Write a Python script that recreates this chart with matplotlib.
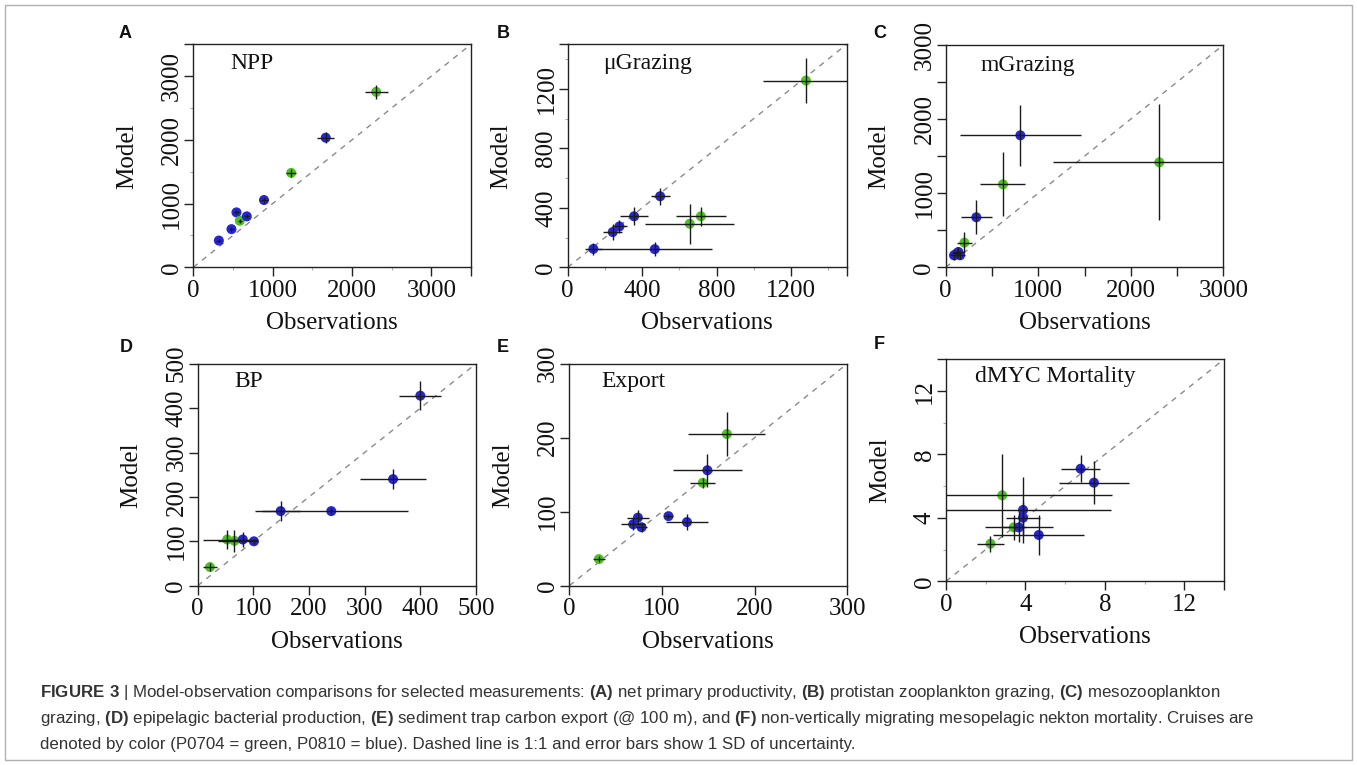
import matplotlib
matplotlib.use("Agg")
import matplotlib.pyplot as plt
from matplotlib.patches import Rectangle
from matplotlib.ticker import FixedLocator, FixedFormatter

W, H = 1357, 765

# ---------------- data ----------------
cruise_colors = {"P0704": "#4fc322", "P0810": "#2626d2"}

npp_obs = [322, 481, 544, 586, 674, 891, 1234, 1669, 2305]
npp_mod = [420, 599, 862, 730, 799, 1056, 1482, 2034, 2754]
npp_obs_sd = [30, 30, 30, 25, 30, 48, 65, 105, 145]
npp_mod_sd = [30, 30, 30, 30, 30, 47, 63, 90, 115]
npp_cruise = ["P0810", "P0810", "P0810", "P0704", "P0810", "P0810", "P0704", "P0810", "P0704"]

ug_obs = [138, 468, 242, 278, 357, 497, 656, 716, 1281]
ug_mod = [124, 122, 237, 275, 343, 478, 293, 343, 1256]
ug_obs_sd = [44, 310, 52, 41, 74, 51, 240, 136, 229]
ug_mod_sd = [38, 45, 55, 45, 60, 56, 135, 62, 153]
ug_cruise = ["P0810"] * 6 + ["P0704"] * 3

mg_obs = [90, 119, 137, 155, 202, 331, 619, 807, 2308]
mg_mod = [162, 189, 207, 162, 333, 675, 1120, 1781, 1417]
mg_obs_sd = [45, 50, 55, 50, 83, 169, 243, 655, 1145]
mg_mod_sd = [70, 60, 70, 55, 140, 230, 434, 412, 783]
mg_cruise = ["P0810", "P0810", "P0810", "P0810", "P0704", "P0810", "P0704", "P0810", "P0704"]

bp_obs = [22, 53, 66, 81, 101, 149, 240, 351, 400]
bp_mod = [42, 104, 101, 104, 100, 168, 168, 240, 428]
bp_obs_sd = [13, 43, 30, 25, 8, 34, 137, 60, 38]
bp_mod_sd = [10, 22, 25, 16, 5, 22, 6, 22, 33]
bp_cruise = ["P0704", "P0704", "P0704"] + ["P0810"] * 6

ex_obs = [32, 69, 74, 78, 107, 127, 144, 149, 170]
ex_mod = [36, 83, 92, 79, 94, 86, 139, 156, 205]
ex_obs_sd = [6.5, 13, 11.5, 6, 5, 22.5, 13.5, 37, 41.5]
ex_mod_sd = [4, 8, 10, 6, 3, 11, 7, 22, 30]
ex_cruise = ["P0704", "P0810", "P0810", "P0810", "P0810", "P0810", "P0704", "P0810", "P0704"]

my_obs = [2.24, 2.83, 3.41, 3.67, 3.88, 3.88, 4.67, 6.78, 7.45]
my_mod = [2.37, 5.42, 3.40, 3.40, 4.50, 4.01, 2.92, 7.10, 6.22]
my_obs_sd = [0.67, 5.54, 0.6, 1.7, 4.42, 0.87, 2.28, 0.98, 1.78]
my_mod_sd = [0.5, 2.6, 0.8, 0.95, 2.1, 1.0, 1.26, 0.86, 1.36]
my_cruise = ["P0704", "P0704", "P0704", "P0810", "P0810", "P0810", "P0810", "P0810", "P0810"]

titles = ["NPP", "\u03bcGrazing", "mGrazing", "BP", "Export", "dMYC Mortality"]
letters = ["A", "B", "C", "D", "E", "F"]
limits = [3500, 1500, 3000, 500, 300, 14]
major_ticks = [
    [0, 1000, 2000, 3000, 3500],
    [0, 400, 800, 1200, 1500],
    [0, 500, 1000, 1500, 2000, 2500, 3000],
    [0, 100, 200, 300, 400, 500],
    [0, 100, 200, 300],
    [0, 4, 8, 12, 14],
]
tick_labels = [
    ["0", "1000", "2000", "3000", ""],
    ["0", "400", "800", "1200", ""],
    ["0", "", "1000", "", "2000", "", "3000"],
    ["0", "100", "200", "300", "400", "500"],
    ["0", "100", "200", "300"],
    ["0", "4", "8", "12", ""],
]
minor_ticks = [
    [500, 1500, 2500],
    [200, 600, 1000, 1400],
    [],
    [],
    [],
    [2, 6, 10],
]

panels = [
    (npp_obs, npp_mod, npp_obs_sd, npp_mod_sd, npp_cruise),
    (ug_obs, ug_mod, ug_obs_sd, ug_mod_sd, ug_cruise),
    (mg_obs, mg_mod, mg_obs_sd, mg_mod_sd, mg_cruise),
    (bp_obs, bp_mod, bp_obs_sd, bp_mod_sd, bp_cruise),
    (ex_obs, ex_mod, ex_obs_sd, ex_mod_sd, ex_cruise),
    (my_obs, my_mod, my_obs_sd, my_mod_sd, my_cruise),
]

# ---------------- layout (pixels: left, top, right, bottom) ----------------
boxes = [
    (193.3, 44.3, 471.0, 267.3),
    (567.7, 44.3, 846.7, 267.3),
    (945.7, 45.0, 1223.3, 267.3),
    (197.7, 363.7, 476.0, 585.7),
    (569.3, 363.7, 847.3, 585.7),
    (946.0, 359.3, 1224.0, 581.3),
]
title_off = [(37, 19), (35, 19), (35, 20), (37, 18), (32, 18), (29, 17)]
letter_pos = [(125, 33), (503, 33), (880, 33), (126, 348), (503, 348), (879, 345)]

plt.rcParams["mathtext.fontset"] = "custom"
plt.rcParams["mathtext.rm"] = "Liberation Sans"
plt.rcParams["mathtext.bf"] = "Liberation Sans:bold"

fig = plt.figure(figsize=(W / 100, H / 100), dpi=100)
fig.patch.set_facecolor("white")

serif = "Liberation Serif"

for i, (obs, mod, osd, msd, cr) in enumerate(panels):
    l, t, r, b = boxes[i]
    ax = fig.add_axes([l / W, 1 - b / H, (r - l) / W, (b - t) / H])
    lim = limits[i]
    ax.set_xlim(0, lim)
    ax.set_ylim(0, lim)
    ax.plot([0, lim], [0, lim], color="#8a8a8a", lw=1.0, ls=(0, (4, 4)), zorder=1)
    cols = [cruise_colors[c] for c in cr]
    ax.scatter(obs, mod, c=cols, s=52, linewidths=0, zorder=2)
    ax.errorbar(obs, mod, xerr=osd, yerr=msd, fmt="none", ecolor="#1a1a1a",
                elinewidth=1.0, capsize=0, zorder=3)
    for sp in ax.spines.values():
        sp.set_linewidth(1.0)
        sp.set_color("#222222")
    for axis in (ax.xaxis, ax.yaxis):
        axis.set_major_locator(FixedLocator(major_ticks[i]))
        axis.set_major_formatter(FixedFormatter(tick_labels[i]))
        axis.set_minor_locator(FixedLocator(minor_ticks[i]))
    ax.tick_params(which="major", direction="out", length=6.2, width=1.0,
                   color="#222222", labelsize=18, labelcolor="#111111")
    ax.tick_params(which="minor", direction="out", length=2.0, width=0.8, color="#aaaaaa")
    ax.tick_params(axis="x", which="major", pad=3)
    ax.tick_params(axis="y", which="major", pad=1.2)
    for lab in ax.get_xticklabels():
        lab.set_fontfamily(serif)
    for lab in ax.get_yticklabels():
        lab.set_fontfamily(serif)
        lab.set_rotation(90)
        lab.set_va("center")

    # panel title inside
    dx, dy = title_off[i]
    fig.text((l + dx) / W, 1 - (t + dy) / H, titles[i], fontfamily=serif,
             fontsize=17, ha="left", va="center", color="#111111")
    # axis labels
    cx = (l + r) / 2
    cy = (t + b) / 2
    fig.text(cx / W, 1 - (b + 56) / H, "Observations", fontfamily=serif,
             fontsize=18, ha="center", va="center", color="#111111")
    fig.text((l - 66) / W, 1 - cy / H, "Model", fontfamily=serif, fontsize=18,
             rotation=90, ha="center", va="center", color="#111111")
    # panel letter
    lx, ly = letter_pos[i]
    fig.text(lx / W, 1 - ly / H, letters[i], fontfamily="Liberation Sans",
             fontweight="bold", fontsize=13, ha="center", va="center", color="#111111")

# ---------------- caption ----------------
cap_lines = [
    r"$\mathbf{FIGURE\ 3}$ | Model-observation comparisons for selected measurements: "
    r"$\mathbf{(A)}$ net primary productivity, $\mathbf{(B)}$ protistan zooplankton grazing, "
    r"$\mathbf{(C)}$ mesozooplankton",
    r"grazing, $\mathbf{(D)}$ epipelagic bacterial production, $\mathbf{(E)}$ sediment trap carbon "
    r"export (@ 100 m), and $\mathbf{(F)}$ non-vertically migrating mesopelagic nekton mortality. Cruises are",
    r"denoted by color (P0704 = green, P0810 = blue). Dashed line is 1:1 and error bars show 1 SD of uncertainty.",
]
cap_y = [693, 719, 745]
for line, y in zip(cap_lines, cap_y):
    fig.text(40 / W, 1 - y / H, line, fontfamily="Liberation Sans", fontsize=12.2,
             ha="left", va="center", color="#333333")

# outer frame
fig.patches.append(Rectangle((5 / W, 5 / H), (W - 10) / W, (H - 10) / H,
                             transform=fig.transFigure, fill=False,
                             edgecolor="#b0b0b0", linewidth=1.0))

fig.savefig("out.png", dpi=100)
